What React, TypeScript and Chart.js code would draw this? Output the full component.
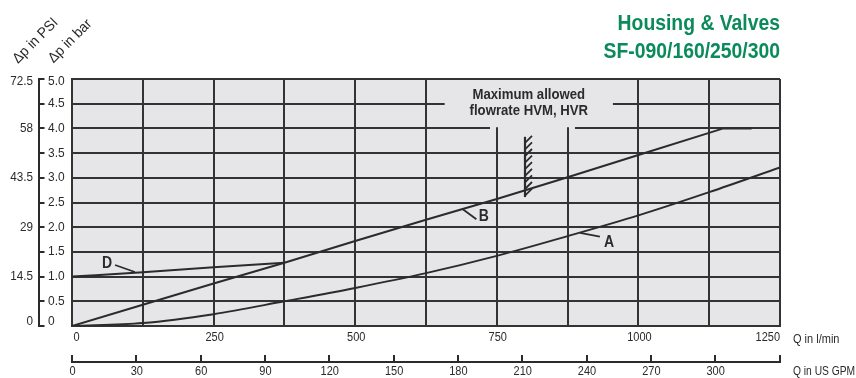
import React, { useEffect, useRef } from "react";
import { Chart, registerables } from "chart.js";

Chart.register(...registerables);

// ---------- data ----------
const flowA = [0, 125, 250, 375, 500, 625, 750, 875, 1000, 1125, 1250];
const dpA = [0, 0.06, 0.24, 0.5, 0.77, 1.07, 1.42, 1.82, 2.24, 2.71, 3.21];

const flowB = [0, 125, 250, 375, 500, 625, 750, 875, 1000, 1150, 1200];
const dpB = [0, 0.43, 0.86, 1.28, 1.72, 2.15, 2.57, 3.01, 3.46, 4.0, 4.0];

const flowD = [0, 125, 250, 375];
const dpD = [1.0, 1.09, 1.19, 1.28];

const barTicks = [0, 0.5, 1, 1.5, 2, 2.5, 3, 3.5, 4, 4.5, 5];
const psiBarValues = [0, 1, 2, 3, 4, 5];
const psiLabels = ["0", "14.5", "29", "43.5", "58", "72.5"];
const lpmLabels = [0, 250, 500, 750, 1000, 1250];
const gpmLabels = [0, 30, 60, 90, 120, 150, 180, 210, 240, 270, 300];
const LPM_PER_GPM = 3.785;
const maxFlowLpm = 800; // max allowed flowrate HVM, HVR
const maxFlowHatch = [2.61, 3.83];

const titleLines = ["Housing & Valves", "SF-090/160/250/300"];
const noteLines = ["Maximum allowed", "flowrate HVM, HVR"];

// ---------- style ----------
const FONT = '"Liberation Sans", Arial, sans-serif';
const INK = "#2b2b2b";
const GRID = "#333333";
const BG = "#e6e6e8";
const GREEN = "#0b8a5c";

type TOpts = {
  bold?: boolean;
  align?: CanvasTextAlign;
  baseline?: CanvasTextBaseline;
  sx?: number;
  color?: string;
  rot?: number;
};

function txt(ctx: CanvasRenderingContext2D, s: string, x: number, y: number, size: number, o: TOpts = {}) {
  ctx.save();
  ctx.translate(x, y);
  if (o.rot) ctx.rotate(o.rot);
  ctx.scale(o.sx ?? 0.88, 1);
  ctx.font = `${o.bold ? "bold " : ""}${size}px ${FONT}`;
  ctx.textAlign = o.align ?? "left";
  ctx.textBaseline = o.baseline ?? "middle";
  ctx.fillStyle = o.color ?? INK;
  ctx.fillText(s, 0, 0);
  ctx.restore();
}

function seg(ctx: CanvasRenderingContext2D, x1: number, y1: number, x2: number, y2: number, w = 2, c = INK) {
  ctx.save();
  ctx.strokeStyle = c;
  ctx.lineWidth = w;
  ctx.beginPath();
  ctx.moveTo(x1, y1);
  ctx.lineTo(x2, y2);
  ctx.stroke();
  ctx.restore();
}

// curve label annotations (data units): label pos, leader from -> to
const curveLabels = [
  { t: "D", lx: 62, ly: 1.265, ax: 76, ay: 1.235, bx: 111, by: 1.093 },
  { t: "B", lx: 727, ly: 2.216, ax: 690, ay: 2.362, bx: 714, by: 2.16 },
  { t: "A", lx: 948, ly: 1.686, ax: 897, ay: 1.883, bx: 932, by: 1.808 },
];

const decor = {
  id: "decor",
  beforeDraw(chart: any) {
    const { ctx, chartArea: a } = chart;
    ctx.save();
    ctx.fillStyle = "#ffffff";
    ctx.fillRect(0, 0, chart.width, chart.height);
    ctx.fillStyle = BG;
    ctx.fillRect(a.left, a.top, a.right - a.left, a.bottom - a.top);
    ctx.restore();
  },
  beforeDatasetsDraw(chart: any) {
    const { ctx, chartArea: a } = chart;
    const xs = chart.scales.x;
    const ys = chart.scales.y;
    const xp = (v: number) => xs.getPixelForValue(v);
    const yp = (v: number) => ys.getPixelForValue(v);
    // cleared area behind the note
    ctx.save();
    ctx.fillStyle = BG;
    const r1x0 = xp(658), r1x1 = xp(955);
    ctx.fillRect(r1x0, a.top + 1, r1x1 - r1x0, yp(4.3) - a.top - 1);
    const r2x0 = xp(738), r2x1 = xp(888);
    ctx.fillRect(r2x0, yp(4.3), r2x1 - r2x0, yp(3.965) - yp(4.3));
    ctx.restore();
    for (const v of [750, 875]) {
      const x = Math.round(xp(v));
      seg(ctx, x, yp(4.025), x, yp(3.95), 2, GRID);
    }
    const cx = (r1x0 + r1x1) / 2;
    txt(ctx, noteLines[0], cx, yp(4.676), 14, { bold: true, align: "center", sx: 0.94 });
    txt(ctx, noteLines[1], cx, yp(4.35), 14, { bold: true, align: "center", sx: 0.94 });

    // hatch marker at max flow
    const hx = Math.round(xp(maxFlowLpm));
    const yTop = yp(maxFlowHatch[1]);
    const yBot = yp(maxFlowHatch[0]);
    seg(ctx, hx, yTop, hx, yBot, 2.2, INK);
    for (let yy = yTop + 6; yy <= yBot + 2; yy += 6.6) {
      seg(ctx, hx, yy, hx + 7, yy - 7, 1.8, INK);
    }
  },
  afterDatasetsDraw(chart: any) {
    const { ctx } = chart;
    const xs = chart.scales.x;
    const ys = chart.scales.y;
    const xp = (v: number) => xs.getPixelForValue(v);
    const yp = (v: number) => ys.getPixelForValue(v);
    for (const c of curveLabels) {
      seg(ctx, xp(c.ax), yp(c.ay), xp(c.bx), yp(c.by), 1.8, INK);
      txt(ctx, c.t, xp(c.lx), yp(c.ly), 16.5, { bold: true, align: "center", sx: 0.85 });
    }
  },
  afterDraw(chart: any) {
    const { ctx, chartArea: a } = chart;
    const xs = chart.scales.x;
    const ys = chart.scales.y;
    const xp = (v: number) => xs.getPixelForValue(v);
    const yp = (v: number) => ys.getPixelForValue(v);

    // title
    txt(ctx, titleLines[0], a.right, 30, 22.5, { bold: true, align: "right", baseline: "alphabetic", sx: 0.86, color: GREEN });
    txt(ctx, titleLines[1], a.right, 57.5, 22.5, { bold: true, align: "right", baseline: "alphabetic", sx: 0.86, color: GREEN });

    // left axis bracket
    const axX = a.left - 33;
    seg(ctx, axX, yp(5) - 1, axX, yp(0) + 1, 2, INK);
    for (const v of barTicks) {
      const y = Math.round(yp(v));
      seg(ctx, axX - 1, y, axX + 5.5, y, 2, INK);
    }
    for (const v of barTicks) {
      const y = Math.min(Math.max(yp(v), a.top + 2.5), a.bottom - 5);
      txt(ctx, v === 0 ? "0" : v.toFixed(1), axX + 9, y, 13, { sx: 0.92 });
    }
    psiBarValues.forEach((v, i) => {
      const y = Math.min(Math.max(yp(v), a.top + 2.5), a.bottom - 5);
      txt(ctx, psiLabels[i], axX - 6, y, 13, { align: "right", sx: 0.9 });
    });
    // axis titles
    txt(ctx, "Δp in PSI", 18, 64, 14.5, { rot: -Math.PI / 4, baseline: "alphabetic", sx: 0.95 });
    txt(ctx, "Δp in bar", 53.5, 63.5, 14.5, { rot: -Math.PI / 4, baseline: "alphabetic", sx: 0.95 });

    // bottom l/min labels
    const lpmY = a.bottom + 12;
    lpmLabels.forEach((v, i) => {
      let align: CanvasTextAlign = "center";
      let x = xp(v) + 1;
      if (i === 0) { align = "left"; x = xp(v) + 1.5; }
      if (i === lpmLabels.length - 1) { align = "right"; x = xp(v); }
      txt(ctx, String(v), x, lpmY, 12.5, { align, sx: 0.88 });
    });
    txt(ctx, "Q in l/min", a.right + 13, lpmY + 1.5, 12.5, { sx: 0.88 });

    // GPM axis
    const gY = a.bottom + 36;
    seg(ctx, a.left - 1, gY, a.right + 1, gY, 2, INK);
    const gpmMax = xs.max / LPM_PER_GPM;
    for (const g of [...gpmLabels, gpmMax]) {
      const x = Math.round(xp(g * LPM_PER_GPM));
      seg(ctx, x, gY + 1, x, gY - 7, 2, INK);
    }
    for (const g of gpmLabels) {
      txt(ctx, String(g), xp(g * LPM_PER_GPM) + 0.5, gY + 9.5, 12.5, { align: "center", sx: 0.88 });
    }
    txt(ctx, "Q in US GPM", a.right + 13, gY + 10, 12.5, { sx: 0.82 });
  },
};

export default function App() {
  const ref = useRef<HTMLCanvasElement | null>(null);

  useEffect(() => {
    const canvas = ref.current;
    if (!canvas) return;
    const line = { borderColor: INK, borderWidth: 2, pointRadius: 0, fill: false };
    const chart = new Chart(canvas, {
      type: "line",
      data: {
        datasets: [
          { ...line, label: "A", data: flowA.map((x, i) => ({ x, y: dpA[i] })), cubicInterpolationMode: "monotone" },
          { ...line, label: "B", data: flowB.map((x, i) => ({ x, y: dpB[i] })), tension: 0 },
          { ...line, label: "D", data: flowD.map((x, i) => ({ x, y: dpD[i] })), cubicInterpolationMode: "monotone" },
        ],
      } as any,
      options: {
        responsive: false,
        animation: false,
        devicePixelRatio: 1,
        layout: { padding: { left: 72, top: 79, right: 76, bottom: 52 } },
        plugins: { legend: { display: false }, tooltip: { enabled: false } },
        scales: {
          x: {
            type: "linear",
            min: 0,
            max: 1250,
            ticks: { display: false, stepSize: 125 },
            grid: { color: GRID, lineWidth: 2, drawTicks: false },
            border: { display: true, color: GRID, width: 2 },
          },
          y: {
            type: "linear",
            min: 0,
            max: 5,
            ticks: { display: false, stepSize: 0.5 },
            grid: { color: GRID, lineWidth: 2, drawTicks: false },
            border: { display: true, color: GRID, width: 2 },
          },
        },
      } as any,
      plugins: [decor],
    });
    return () => chart.destroy();
  }, []);

  return (
    <div style={{ position: "fixed", left: 0, top: 0, width: 856, height: 378, background: "#fff" }}>
      <canvas ref={ref} width={856} height={378} style={{ display: "block" }} />
    </div>
  );
}
